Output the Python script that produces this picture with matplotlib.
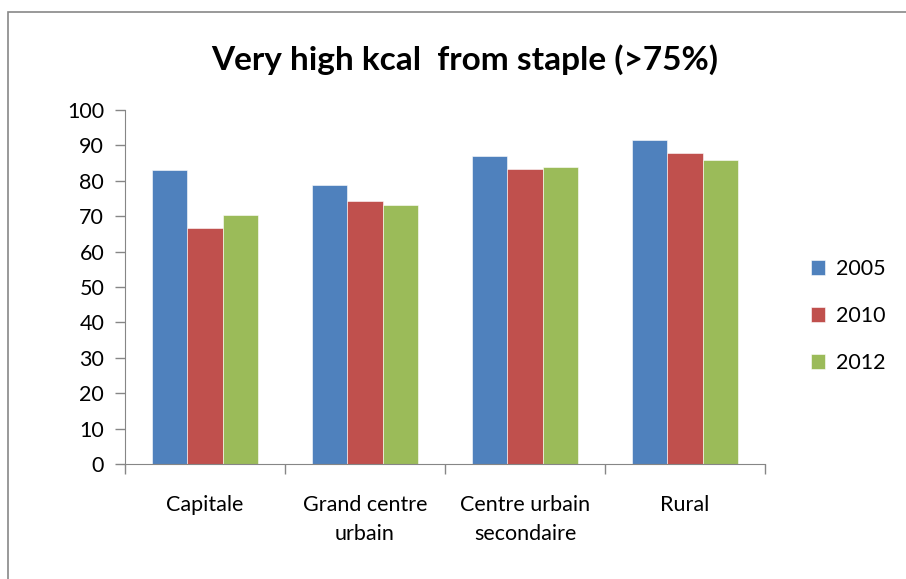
import matplotlib.pyplot as plt
import numpy as np
from matplotlib.patches import Rectangle

categories = ["Capitale", "Grand centre\nurbain", "Centre urbain\nsecondaire", "Rural"]
years = ["2005", "2010", "2012"]
v2005 = [83.0, 78.7, 87.0, 91.4]
v2010 = [66.7, 74.3, 83.4, 87.8]
v2012 = [70.3, 73.2, 84.0, 85.9]
colors = ["#4f81bd", "#c0504d", "#9bbb59"]

plt.rcParams['font.family'] = ['Lato', 'DejaVu Sans']

fig = plt.figure(figsize=(9.06, 5.79), dpi=100)
# chart border
fig.patches.append(Rectangle((8 / 906, -0.1), 1.2, 1 - 12 / 579 + 0.1, transform=fig.transFigure,
                             fill=False, edgecolor="#888888", linewidth=1.2))

ax = fig.add_axes([125 / 906, 1 - 464 / 579, 640 / 906, 354 / 579])

x = np.arange(len(categories))
w = 0.222
for i, (vals, c, lab) in enumerate(zip([v2005, v2010, v2012], colors, years)):
    ax.bar(x + (i - 1) * w, vals, width=w, color=c, label=lab, edgecolor="white", linewidth=0.4)

ax.set_xlim(-0.5, len(categories) - 0.5)
ax.set_ylim(0, 100)
ax.set_yticks(np.arange(0, 101, 10))
ax.set_xticks(np.arange(-0.5, len(categories), 1))
ax.set_xticklabels([])
ax.set_xticks(x, minor=True)
ax.set_xticklabels(categories, minor=True, fontsize=15.5)
ax.tick_params(axis="x", which="minor", length=0, pad=22)
ax.tick_params(axis="x", which="major", length=7, color="#868686", width=1)
ax.tick_params(axis="y", length=7, color="#868686", width=1, labelsize=15.5, pad=8)
for lbl in ax.get_xticklabels(minor=True):
    lbl.set_linespacing(1.6)

for s in ["top", "right"]:
    ax.spines[s].set_visible(False)
for s in ["left", "bottom"]:
    ax.spines[s].set_color("#868686")

fig.text(465 / 906, 1 - 60 / 579, "Very high kcal  from staple (>75%)", ha="center", va="center",
         fontsize=24, fontweight="bold")

ax.legend(loc="center left", bbox_to_anchor=(792 / 906, 1 - 316 / 579), bbox_transform=fig.transFigure,
          frameon=False, fontsize=15.5, handlelength=0.65, handleheight=0.65, labelspacing=1.25,
          handletextpad=0.5)

fig.savefig("out.png", dpi=100)
